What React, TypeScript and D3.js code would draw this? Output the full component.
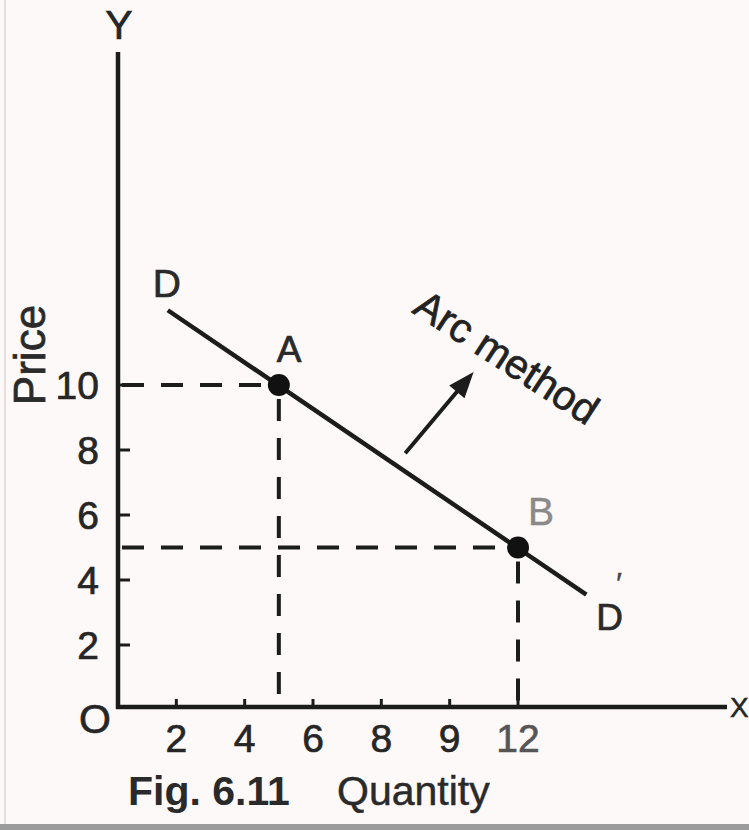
import React from 'react';
import * as d3 from 'd3';

const W = 749;
const H = 830;

// Axis ticks (the printed figure labels the fifth quantity tick "9")
const quantityTicks = [2, 4, 6, 8, 10, 12];
const quantityTickLabels = ['2', '4', '6', '8', '9', '12'];
const priceTicks = [2, 4, 6, 8, 10];
const priceTickLabels = ['2', '4', '6', '8', '10'];

// Points on the demand curve
const pointLabels = ['A', 'B'];
const pointQuantity = [5, 12];
const pointPrice = [10, 5];

// Demand curve DD' end points
const demandQuantity = [1.75, 14];
const demandPrice = [12.3, 3.55];

// "Arc method" pointer arrow (tail, head)
const arrowQuantity = [8.7, 10.7];
const arrowPrice = [7.9, 10.4];

const FONT = '"Liberation Sans", Arial, Helvetica, sans-serif';
const INK = '#1c1c1c';

// slightly heavier glyphs, like the printed figure
const heavy = (color: string, w = 0.7) => ({ fill: color, stroke: color, strokeWidth: w });

export default function App() {
  const left = 118;
  const bottom = 707;
  const axisTop = 52;
  const axisRight = 727;

  const x = d3.scaleLinear().domain([0, 12]).range([108, 518]);
  const y = d3.scaleLinear().domain([0, 10]).range([710, 385]);

  const demand = d3
    .line<number>()
    .x((d) => x(demandQuantity[d]))
    .y((d) => y(demandPrice[d]))(d3.range(demandQuantity.length));

  const points = pointLabels.map((label, i) => ({
    label,
    px: x(pointQuantity[i]),
    py: y(pointPrice[i]),
  }));

  const dStart = { px: x(demandQuantity[0]), py: y(demandPrice[0]) };
  const dEnd = { px: x(demandQuantity[1]), py: y(demandPrice[1]) };

  const tail = { px: x(arrowQuantity[0]), py: y(arrowPrice[0]) };
  const head = { px: x(arrowQuantity[1]), py: y(arrowPrice[1]) };
  const ang = (Math.atan2(head.py - tail.py, head.px - tail.px) * 180) / Math.PI;
  const headLen = 24;
  const shaftLen = Math.hypot(head.px - tail.px, head.py - tail.py) - headLen + 4;

  const dash = '22 17';

  return (
    <div style={{ position: 'absolute', left: 0, top: 0 }}>
      <svg width={W} height={H} style={{ display: 'block', background: '#fdf9f8' }}>
        {/* faint scan borders */}
        <line x1={5} x2={5} y1={0} y2={H} stroke="#e4dede" strokeWidth={2} />
        <rect x={0} y={824} width={W} height={6} fill="#9c9c9c" />

        {/* dashed guides to the axes */}
        {points.map((p) => (
          <g key={'g' + p.label} stroke={INK} strokeWidth={4} strokeDasharray={dash} fill="none">
            <line x1={left + 4} x2={p.px} y1={p.py} y2={p.py} />
            <line x1={p.px} x2={p.px} y1={p.py + 14} y2={bottom} />
          </g>
        ))}

        {/* axes */}
        <line x1={left} x2={left} y1={axisTop} y2={bottom + 2} stroke={INK} strokeWidth={4.5} />
        <line x1={left - 2} x2={axisRight} y1={bottom} y2={bottom} stroke={INK} strokeWidth={4.5} />

        {/* price ticks */}
        {priceTicks.map((t, i) => (
          <g key={'py' + t}>
            <line x1={left} x2={left + 12} y1={y(t)} y2={y(t)} stroke={INK} strokeWidth={3} />
            <text
              x={99}
              y={y(t)}
              dy="0.36em"
              textAnchor="end"
              fontFamily={FONT}
              fontSize={39}
              {...heavy('#262626')}
            >
              {priceTickLabels[i]}
            </text>
          </g>
        ))}

        {/* quantity ticks */}
        {quantityTicks.map((t, i) => (
          <g key={'qx' + t}>
            <line x1={x(t)} x2={x(t)} y1={bottom} y2={bottom - 8} stroke={INK} strokeWidth={3} />
            <text
              x={x(t)}
              y={752}
              textAnchor="middle"
              fontFamily={FONT}
              fontSize={39}
              {...heavy(t === 12 ? '#555' : '#262626')}
            >
              {quantityTickLabels[i]}
            </text>
          </g>
        ))}

        {/* demand curve */}
        <path d={demand ?? ''} fill="none" stroke={INK} strokeWidth={4.5} />

        {/* points A and B */}
        {points.map((p) => (
          <circle key={'c' + p.label} cx={p.px} cy={p.py} r={11} fill="#111" />
        ))}
        <text x={points[0].px - 2} y={points[0].py - 23} fontFamily={FONT} fontSize={37} {...heavy('#2a2a2a')}>
          {points[0].label}
        </text>
        <text x={points[1].px + 10} y={points[1].py - 23} fontFamily={FONT} fontSize={39} {...heavy('#8a8a8a', 0.5)}>
          {points[1].label}
        </text>

        {/* curve labels */}
        <text x={dStart.px - 1} y={dStart.py - 13} textAnchor="middle" fontFamily={FONT} fontSize={39} {...heavy('#2a2a2a')}>
          D
        </text>
        <text x={dEnd.px + 10} y={dEnd.py + 35} fontFamily={FONT} fontSize={37} {...heavy('#2a2a2a')}>
          D
        </text>
        <text x={dEnd.px + 30} y={dEnd.py - 2} fontFamily={FONT} fontSize={30} {...heavy('#444', 0.5)}>
          ′
        </text>

        {/* arrow */}
        <g transform={`translate(${tail.px},${tail.py}) rotate(${ang})`}>
          <line x1={0} x2={shaftLen} y1={0} y2={0} stroke={INK} strokeWidth={4} />
          <polygon
            points={`${shaftLen + headLen - 4},0 ${shaftLen - 6},-10 ${shaftLen - 6},10`}
            fill={INK}
          />
        </g>
        <text
          transform="translate(411,312) rotate(33)"
          fontFamily={FONT}
          fontSize={41}
          {...heavy('#222')}
        >
          Arc method
        </text>

        {/* axis names */}
        <text x={left + 1} y={39} textAnchor="middle" fontFamily={FONT} fontSize={41} {...heavy('#262626')}>
          Y
        </text>
        <text x={730} y={bottom} dy="0.36em" fontFamily={FONT} fontSize={28} {...heavy('#262626', 0.5)}>
          X
        </text>
        <text x={95} y={733} textAnchor="middle" fontFamily={FONT} fontSize={41} {...heavy('#262626')}>
          O
        </text>
        <text
          transform="translate(45,355) rotate(-90)"
          textAnchor="middle"
          fontFamily={FONT}
          fontSize={44}
          {...heavy('#2a2a2a')}
        >
          Price
        </text>

        {/* caption */}
        <text x={128} y={805} fontFamily={FONT} fontSize={41} fontWeight="bold" fill="#2a2a2a">
          Fig. 6.11
        </text>
        <text x={337} y={805} fontFamily={FONT} fontSize={41} {...heavy('#2a2a2a', 0.5)}>
          Quantity
        </text>
      </svg>
    </div>
  );
}
